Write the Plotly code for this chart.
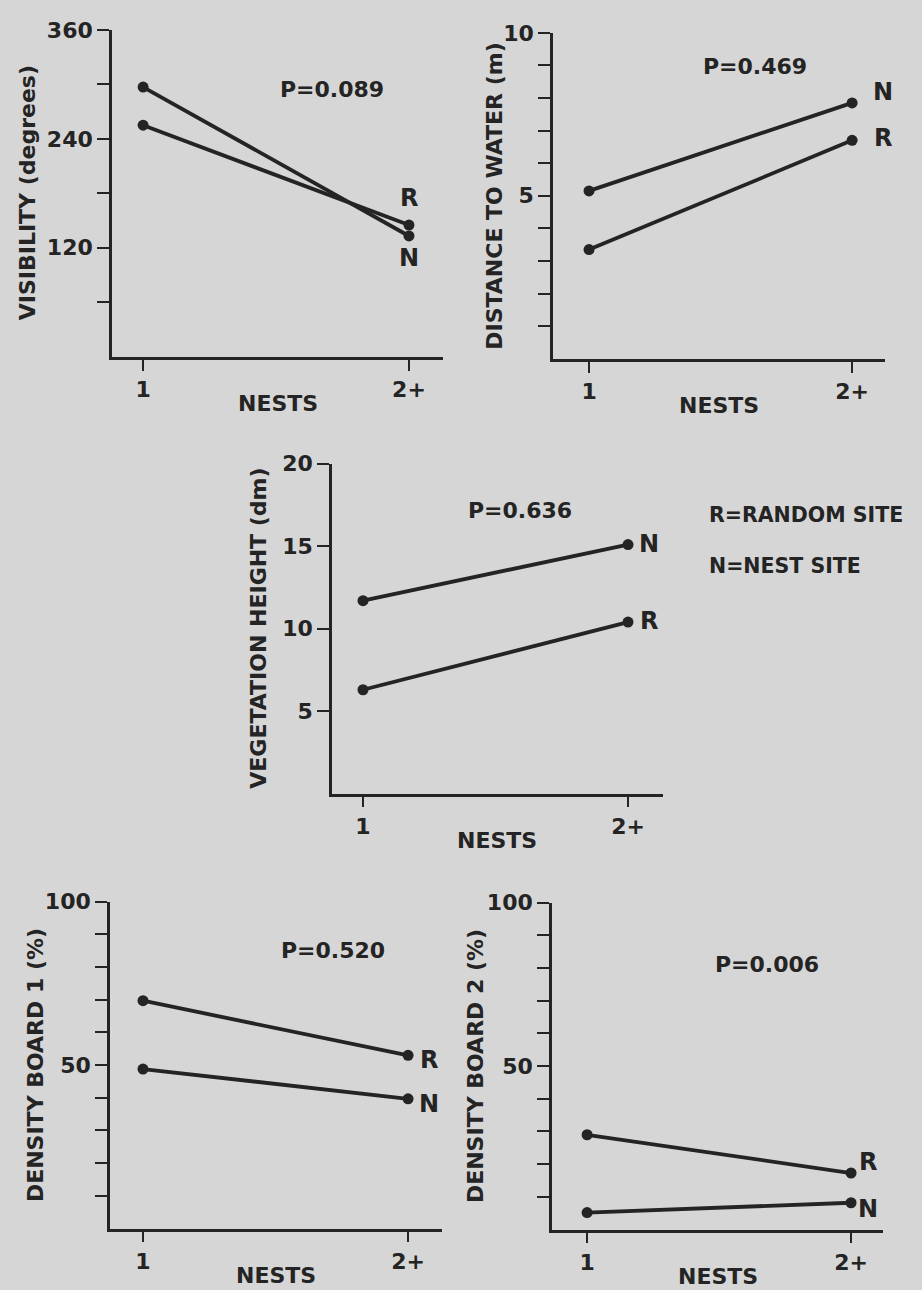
import plotly.graph_objects as go

# ---------------- data ----------------
nests_x = [1, 2]
nests_labels = ["1", "2+"]

vis_random = [255, 145]
vis_nest = [297, 133]

dist_random = [3.35, 6.7]
dist_nest = [5.15, 7.85]

veg_random = [6.3, 10.4]
veg_nest = [11.7, 15.1]

db1_random = [69.7, 53.0]
db1_nest = [48.8, 39.7]

db2_random = [29.0, 17.3]
db2_nest = [5.2, 8.2]

p_values = ["P=0.089", "P=0.469", "P=0.636", "P=0.520", "P=0.006"]
y_titles = ["VISIBILITY (degrees)", "DISTANCE TO WATER (m)", "VEGETATION HEIGHT (dm)",
            "DENSITY BOARD 1 (%)", "DENSITY BOARD 2 (%)"]

vis_ticks = [60, 120, 180, 240, 300, 360]
vis_ticklabels = ["", "120", "", "240", "", "360"]
dist_ticks = [1, 2, 3, 4, 5, 6, 7, 8, 9, 10]
dist_ticklabels = ["", "", "", "", "5", "", "", "", "", "10"]
veg_ticks = [5, 10, 15, 20]
veg_ticklabels = ["5", "10", "15", "20"]
db_ticks = [10, 20, 30, 40, 50, 60, 70, 80, 90, 100]
db_ticklabels = ["", "", "", "", "50", "", "", "", "", "100"]

# ---------------- styling ----------------
W, H = 922, 1290
BG = "#d6d6d6"
INK = "#242424"
FONT = dict(family="DejaVu Sans", size=22, color=INK, weight="bold")


def fx(px):
    return px / W


def fy(py):
    return 1 - py / H


# panel geometry in pixels: (left, right, top, bottom), x range, y max
panels = [
    dict(l=112, r=443, t=18, b=348, xr=[0.883, 2.128], ymax=360,
         R=vis_random, N=vis_nest, ticks=vis_ticks, tl=vis_ticklabels,
         p=(332, 78), title_x=27,
         Rlab=dict(xshift=0, yshift=27), Nlab=dict(xshift=0, yshift=-22)),
    dict(l=553, r=885, t=21, b=350, xr=[0.863, 2.125], ymax=10,
         R=dist_random, N=dist_nest, ticks=dist_ticks, tl=dist_ticklabels,
         p=(755, 55), title_x=495,
         Rlab=dict(xshift=31, yshift=2), Nlab=dict(xshift=31, yshift=11)),
    dict(l=332, r=663, t=456, b=789, xr=[0.883, 2.132], ymax=20,
         R=veg_random, N=veg_nest, ticks=veg_ticks, tl=veg_ticklabels,
         p=(520, 503), title_x=259,
         Rlab=dict(xshift=21, yshift=1), Nlab=dict(xshift=21, yshift=1)),
    dict(l=110, r=442, t=898, b=1228, xr=[0.8755, 2.128], ymax=100,
         R=db1_random, N=db1_nest, ticks=db_ticks, tl=db_ticklabels,
         p=(333, 947), title_x=35,
         Rlab=dict(xshift=21, yshift=-5), Nlab=dict(xshift=21, yshift=-5)),
    dict(l=552, r=883, t=899, b=1229, xr=[0.867, 2.121], ymax=100,
         R=db2_random, N=db2_nest, ticks=db_ticks, tl=db_ticklabels,
         p=(767, 961), title_x=475,
         Rlab=dict(xshift=17, yshift=11), Nlab=dict(xshift=17, yshift=-6)),
]

fig = go.Figure()
annotations = []
layout_axes = {}

for i, pn in enumerate(panels):
    k = "" if i == 0 else str(i + 1)
    xa, ya = "x" + k, "y" + k
    for series in (pn["R"], pn["N"]):
        fig.add_trace(go.Scatter(
            x=nests_x, y=series, xaxis=xa, yaxis=ya, mode="lines+markers",
            line=dict(color=INK, width=3.8), marker=dict(color=INK, size=11),
            cliponaxis=False, showlegend=False, hoverinfo="skip"))

    layout_axes["xaxis" + k] = dict(
        domain=[fx(pn["l"]), fx(pn["r"])], range=pn["xr"], anchor=ya,
        tickvals=nests_x, ticktext=nests_labels, ticks="outside", ticklen=11,
        tickwidth=2.4, tickcolor=INK, showline=True, linecolor=INK, linewidth=2.6,
        showgrid=False, zeroline=False, tickfont=FONT, fixedrange=True)
    layout_axes["yaxis" + k] = dict(
        domain=[fy(pn["b"]), fy(pn["t"])], range=[0, pn["ymax"]], anchor=xa,
        tickvals=pn["ticks"], ticktext=pn["tl"], ticks="outside", ticklen=12,
        tickwidth=2.4, tickcolor=INK, showline=True, linecolor=INK, linewidth=2.6,
        showgrid=False, zeroline=False, tickfont=FONT, fixedrange=True)

    # p-value
    annotations.append(dict(text=p_values[i], xref="paper", yref="paper",
                            x=fx(pn["p"][0]), y=fy(pn["p"][1]), showarrow=False,
                            xanchor="center", yanchor="middle", font=FONT))
    # R / N labels next to the 2+ points
    annotations.append(dict(text="R", xref=xa, yref=ya, x=nests_x[1], y=pn["R"][1],
                            xshift=pn["Rlab"]["xshift"], yshift=pn["Rlab"]["yshift"],
                            showarrow=False, xanchor="center", yanchor="middle",
                            font=dict(FONT, size=24)))
    annotations.append(dict(text="N", xref=xa, yref=ya, x=nests_x[1], y=pn["N"][1],
                            xshift=pn["Nlab"]["xshift"], yshift=pn["Nlab"]["yshift"],
                            showarrow=False, xanchor="center", yanchor="middle",
                            font=dict(FONT, size=24)))
    # y-axis title
    annotations.append(dict(text=y_titles[i], xref="paper", yref="paper",
                            x=fx(pn["title_x"]), y=(fy(pn["b"]) + fy(pn["t"])) / 2,
                            textangle=-90, showarrow=False, xanchor="center",
                            yanchor="middle", font=FONT))
    # x-axis title
    annotations.append(dict(text="NESTS", xref="paper", yref="paper",
                            x=(fx(pn["l"]) + fx(pn["r"])) / 2, y=fy(pn["b"] + 47),
                            showarrow=False, xanchor="center", yanchor="middle",
                            font=FONT))

# key
annotations.append(dict(text="R=RANDOM SITE", xref="paper", yref="paper",
                        x=fx(707), y=fy(508), showarrow=False, xanchor="left",
                        yanchor="middle", font=dict(FONT, size=20.5)))
annotations.append(dict(text="N=NEST SITE", xref="paper", yref="paper",
                        x=fx(707), y=fy(559), showarrow=False, xanchor="left",
                        yanchor="middle", font=dict(FONT, size=20.5)))

fig.update_layout(
    width=W, height=H, margin=dict(l=0, r=0, t=0, b=0),
    paper_bgcolor=BG, plot_bgcolor=BG, font=FONT,
    annotations=annotations, **layout_axes)

fig.write_html("out.html", config={"displayModeBar": False},
               post_script="document.body.style.margin='0';"
                           "document.body.style.overflow='hidden';")
